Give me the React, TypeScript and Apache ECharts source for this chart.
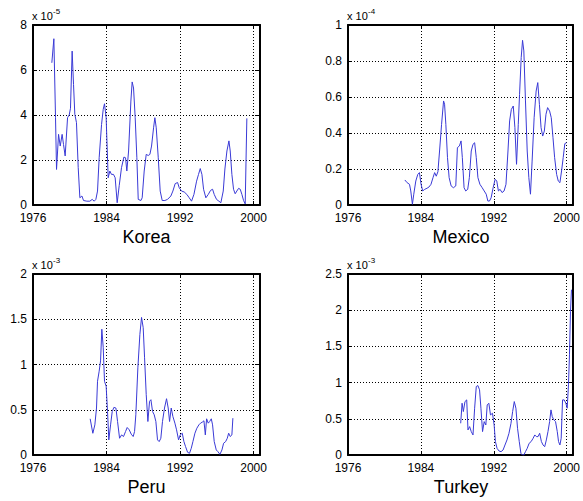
import React, { useEffect, useRef } from "react";
import * as echarts from "echarts";

// ---------- Data (values in units of the panel's exponent) ----------
const xTicks = [1976, 1984, 1992, 2000];

const koreaYears = [1978.05, 1978.27, 1978.45, 1978.56, 1978.78, 1978.96, 1979.17, 1979.32, 1979.5, 1979.76, 1979.94, 1980.08, 1980.26, 1980.41, 1980.55, 1980.73, 1980.92, 1981.1, 1981.32, 1981.5, 1981.86, 1982.19, 1982.44, 1982.66, 1982.84, 1983.02, 1983.2, 1983.46, 1983.64, 1983.78, 1983.96, 1984.18, 1984.36, 1984.54, 1984.76, 1984.94, 1985.16, 1985.38, 1985.63, 1985.89, 1986.07, 1986.21, 1986.4, 1986.65, 1986.79, 1986.94, 1987.12, 1987.3, 1987.45, 1987.74, 1987.88, 1988.1, 1988.32, 1988.54, 1988.72, 1988.9, 1989.12, 1989.26, 1989.41, 1989.63, 1989.84, 1990.06, 1990.35, 1990.64, 1991.0, 1991.22, 1991.47, 1991.73, 1991.91, 1992.16, 1992.45, 1992.74, 1993.0, 1993.25, 1993.51, 1993.8, 1994.01, 1994.2, 1994.38, 1994.56, 1994.81, 1995.07, 1995.32, 1995.54, 1995.72, 1995.97, 1996.23, 1996.44, 1996.7, 1996.88, 1997.1, 1997.32, 1997.46, 1997.64, 1997.82, 1998.0, 1998.18, 1998.37, 1998.55, 1998.73, 1998.91, 1999.09, 1999.2, 1999.27];
const koreaVals = [6.32, 7.39, 3.88, 1.58, 3.14, 2.62, 3.14, 2.69, 2.18, 3.88, 4.0, 4.3, 6.84, 5.36, 4.03, 3.66, 1.66, 0.32, 0.4, 0.2, 0.17, 0.17, 0.25, 0.17, 0.25, 0.62, 2.1, 3.58, 4.25, 4.5, 3.88, 1.21, 1.51, 1.36, 1.36, 1.21, 0.1, 0.86, 1.66, 2.13, 2.1, 1.51, 2.4, 4.62, 5.47, 5.2, 3.88, 2.1, 0.25, 0.2, 0.32, 1.51, 2.25, 2.2, 2.25, 2.62, 3.43, 3.88, 3.43, 2.1, 0.62, 0.2, 0.2, 0.25, 0.4, 0.62, 0.95, 1.0, 0.77, 0.62, 0.58, 0.47, 0.32, 0.17, 0.47, 1.06, 1.36, 1.62, 1.36, 0.7, 0.32, 0.47, 0.65, 0.7, 0.47, 0.25, 0.17, 0.1, 0.62, 1.6, 2.4, 2.85, 2.4, 1.36, 0.7, 0.5, 0.62, 0.74, 0.7, 0.47, 0.2, 0.05, 2.4, 3.85];

const mexicoYears = [1982.24, 1982.49, 1982.75, 1982.89, 1983.07, 1983.22, 1983.44, 1983.66, 1983.84, 1984.02, 1984.2, 1984.42, 1984.67, 1984.89, 1985.11, 1985.33, 1985.51, 1985.69, 1985.87, 1986.05, 1986.27, 1986.49, 1986.6, 1986.74, 1986.92, 1987.1, 1987.32, 1987.57, 1987.83, 1988.01, 1988.23, 1988.41, 1988.55, 1988.74, 1988.92, 1989.14, 1989.32, 1989.53, 1989.72, 1989.9, 1990.08, 1990.26, 1990.48, 1990.73, 1990.95, 1991.17, 1991.35, 1991.53, 1991.71, 1991.93, 1992.15, 1992.33, 1992.51, 1992.69, 1992.91, 1993.13, 1993.34, 1993.56, 1993.74, 1993.93, 1994.14, 1994.32, 1994.5, 1994.69, 1994.83, 1995.01, 1995.16, 1995.3, 1995.48, 1995.67, 1995.85, 1996.03, 1996.21, 1996.43, 1996.65, 1996.83, 1997.01, 1997.19, 1997.37, 1997.55, 1997.73, 1997.91, 1998.13, 1998.31, 1998.5, 1998.68, 1998.9, 1999.08, 1999.26, 1999.44, 1999.62, 1999.8, 1999.98];
const mexicoVals = [0.139, 0.124, 0.115, 0.078, 0.004, 0.06, 0.133, 0.17, 0.18, 0.115, 0.078, 0.087, 0.093, 0.1, 0.115, 0.152, 0.18, 0.16, 0.185, 0.3, 0.448, 0.578, 0.56, 0.448, 0.263, 0.152, 0.106, 0.096, 0.106, 0.319, 0.328, 0.356, 0.263, 0.096, 0.078, 0.087, 0.152, 0.3, 0.337, 0.346, 0.263, 0.152, 0.115, 0.096, 0.078, 0.06, 0.022, 0.022, 0.04, 0.096, 0.143, 0.133, 0.078, 0.087, 0.069, 0.078, 0.115, 0.3, 0.467, 0.531, 0.55, 0.43, 0.226, 0.448, 0.615, 0.819, 0.915, 0.856, 0.578, 0.3, 0.152, 0.06, 0.244, 0.485, 0.633, 0.68, 0.559, 0.43, 0.383, 0.411, 0.504, 0.541, 0.522, 0.485, 0.374, 0.263, 0.17, 0.133, 0.124, 0.189, 0.263, 0.341, 0.346];

const peruYears = [1982.22, 1982.51, 1982.73, 1982.91, 1983.02, 1983.2, 1983.35, 1983.49, 1983.64, 1983.78, 1983.96, 1984.11, 1984.25, 1984.44, 1984.62, 1984.8, 1985.02, 1985.2, 1985.42, 1985.64, 1985.85, 1986.07, 1986.25, 1986.47, 1986.69, 1986.9, 1987.05, 1987.19, 1987.41, 1987.63, 1987.81, 1987.99, 1988.14, 1988.32, 1988.5, 1988.68, 1988.83, 1989.01, 1989.19, 1989.37, 1989.55, 1989.73, 1989.91, 1990.09, 1990.31, 1990.53, 1990.71, 1990.86, 1991.04, 1991.22, 1991.44, 1991.62, 1991.84, 1992.02, 1992.24, 1992.42, 1992.6, 1992.82, 1993.03, 1993.22, 1993.4, 1993.62, 1993.83, 1994.05, 1994.23, 1994.42, 1994.6, 1994.75, 1994.89, 1995.07, 1995.22, 1995.4, 1995.54, 1995.72, 1995.94, 1996.12, 1996.34, 1996.56, 1996.74, 1996.96, 1997.14, 1997.29, 1997.46, 1997.64, 1997.75];
const peruVals = [0.4, 0.24, 0.333, 0.519, 0.815, 0.926, 1.04, 1.39, 1.19, 0.815, 0.76, 0.48, 0.167, 0.333, 0.48, 0.526, 0.519, 0.37, 0.185, 0.222, 0.204, 0.259, 0.304, 0.278, 0.23, 0.204, 0.259, 0.444, 0.963, 1.333, 1.52, 1.407, 1.074, 0.667, 0.37, 0.593, 0.611, 0.481, 0.444, 0.37, 0.167, 0.148, 0.185, 0.37, 0.519, 0.622, 0.519, 0.37, 0.519, 0.426, 0.352, 0.278, 0.167, 0.222, 0.241, 0.148, 0.093, 0.03, 0.019, 0.074, 0.148, 0.241, 0.296, 0.333, 0.352, 0.363, 0.378, 0.222, 0.4, 0.352, 0.37, 0.4, 0.333, 0.148, 0.056, 0.037, 0.007, 0.056, 0.13, 0.148, 0.185, 0.241, 0.204, 0.222, 0.407];

const turkeyYears = [1988.37, 1988.52, 1988.66, 1988.84, 1989.03, 1989.17, 1989.35, 1989.53, 1989.72, 1989.9, 1990.08, 1990.26, 1990.44, 1990.59, 1990.77, 1990.95, 1991.13, 1991.28, 1991.46, 1991.64, 1991.86, 1992.04, 1992.18, 1992.36, 1992.58, 1992.8, 1993.02, 1993.23, 1993.45, 1993.67, 1993.89, 1994.07, 1994.25, 1994.43, 1994.61, 1994.8, 1994.98, 1995.16, 1995.3, 1995.48, 1995.67, 1995.88, 1996.1, 1996.32, 1996.5, 1996.68, 1996.86, 1997.04, 1997.23, 1997.41, 1997.59, 1997.77, 1997.95, 1998.13, 1998.28, 1998.42, 1998.6, 1998.78, 1998.97, 1999.11, 1999.26, 1999.4, 1999.55, 1999.73, 1999.91, 2000.06, 2000.2, 2000.31, 2000.42, 2000.53];
const turkeyVals = [0.438, 0.715, 0.6, 0.738, 0.761, 0.346, 0.392, 0.323, 0.277, 0.646, 0.946, 0.959, 0.9, 0.646, 0.323, 0.461, 0.415, 0.692, 0.715, 0.553, 0.577, 0.415, 0.185, 0.092, 0.055, 0.046, 0.069, 0.138, 0.208, 0.3, 0.438, 0.6, 0.738, 0.646, 0.369, 0.185, 0.023, 0.0, 0.0, 0.046, 0.092, 0.161, 0.185, 0.231, 0.277, 0.254, 0.254, 0.3, 0.185, 0.138, 0.115, 0.208, 0.323, 0.461, 0.623, 0.53, 0.484, 0.461, 0.323, 0.185, 0.138, 0.231, 0.761, 0.761, 0.715, 0.646, 0.969, 1.384, 1.983, 2.283];

const panelNames = ["Korea", "Mexico", "Peru", "Turkey"];
const panelExponents = ["-5", "-4", "-3", "-3"];
const yMaxes = [8, 1, 2, 2.5];
const yIntervals = [2, 0.2, 0.5, 0.5];

const FONT = "'Liberation Sans', Arial, Helvetica, sans-serif";
const X_MIN = 1976;
const X_MAX = 2000.7;

function zip(xs: number[], ys: number[]) {
  return xs.map((x, i) => [x, ys[i]]);
}

export default function App() {
  const ref = useRef<HTMLDivElement>(null);

  useEffect(() => {
    if (!ref.current) return;
    const chart = echarts.init(ref.current, undefined, { renderer: "svg" });

    const seriesData = [
      zip(koreaYears, koreaVals),
      zip(mexicoYears, mexicoVals),
      zip(peruYears, peruVals),
      zip(turkeyYears, turkeyVals),
    ];

    const layout = [
      { left: 33, top: 25, width: 227, height: 180 },
      { left: 348, top: 25, width: 226, height: 180 },
      { left: 33, top: 274, width: 227, height: 181 },
      { left: 348, top: 274, width: 226, height: 181 },
    ];

    const grids = layout.map((l) => ({ ...l, containLabel: false }));

    const xAxes: any[] = [];
    const yAxes: any[] = [];
    const series: any[] = [];
    const graphics: any[] = [];

    layout.forEach((l, i) => {
      const frameLine = { show: true, onZero: false, lineStyle: { color: "#000", width: 2 } };
      const tickIn = { show: true, inside: true, length: 4, lineStyle: { color: "#000", width: 1 } };
      const gridLine = { show: true, lineStyle: { color: "#000", width: 1, type: [1, 2] } };
      xAxes.push({
        type: "value",
        gridIndex: i,
        position: "bottom",
        min: X_MIN,
        max: X_MAX,
        interval: 8,
        axisLine: frameLine,
        axisTick: tickIn,
        axisLabel: {
          color: "#000",
          fontSize: 12,
          fontFamily: FONT,
          margin: 7,
          formatter: (v: number) => (xTicks.includes(v) ? String(v) : ""),
        },
        splitLine: gridLine,
      });
      xAxes.push({
        type: "value",
        gridIndex: i,
        position: "top",
        min: X_MIN,
        max: X_MAX,
        interval: 8,
        axisLine: frameLine,
        axisTick: tickIn,
        axisLabel: { show: false },
        splitLine: { show: false },
      });
      yAxes.push({
        type: "value",
        gridIndex: i,
        position: "left",
        min: 0,
        max: yMaxes[i],
        interval: yIntervals[i],
        axisLine: frameLine,
        axisTick: tickIn,
        axisLabel: { color: "#000", fontSize: 12, fontFamily: FONT, margin: 6 },
        splitLine: gridLine,
      });
      yAxes.push({
        type: "value",
        gridIndex: i,
        position: "right",
        min: 0,
        max: yMaxes[i],
        interval: yIntervals[i],
        axisLine: frameLine,
        axisTick: tickIn,
        axisLabel: { show: false },
        splitLine: { show: false },
      });
      series.push({
        type: "line",
        xAxisIndex: i * 2,
        yAxisIndex: i * 2,
        data: seriesData[i],
        showSymbol: false,
        symbol: "none",
        lineStyle: { color: "#3a3ad6", width: 1 },
        z: 1,
      });

      // Title below panel
      graphics.push({
        type: "text",
        x: l.left + l.width / 2,
        y: l.top + l.height + 32,
        style: {
          text: panelNames[i],
          font: `18px ${FONT}`,
          fill: "#000",
          textAlign: "center",
          textVerticalAlign: "middle",
          align: "center",
          verticalAlign: "middle",
        },
      });
      // Exponent label
      graphics.push({
        type: "text",
        x: l.left - 1,
        y: l.top - 9,
        style: {
          text: "x 10",
          font: `11px ${FONT}`,
          fill: "#000",
          textAlign: "left",
          textVerticalAlign: "middle",
          align: "left",
          verticalAlign: "middle",
        },
      });
      graphics.push({
        type: "text",
        x: l.left + 20,
        y: l.top - 14,
        style: {
          text: panelExponents[i],
          font: `8px ${FONT}`,
          fill: "#000",
          textAlign: "left",
          textVerticalAlign: "middle",
          align: "left",
          verticalAlign: "middle",
        },
      });
    });

    chart.setOption({
      animation: false,
      backgroundColor: "#fff",
      grid: grids,
      xAxis: xAxes,
      yAxis: yAxes,
      series,
      graphic: graphics,
    });

    return () => {
      chart.dispose();
    };
  }, []);

  return (
    <div
      ref={ref}
      style={{ position: "fixed", left: 0, top: 0, width: 583, height: 501, background: "#fff" }}
    />
  );
}
